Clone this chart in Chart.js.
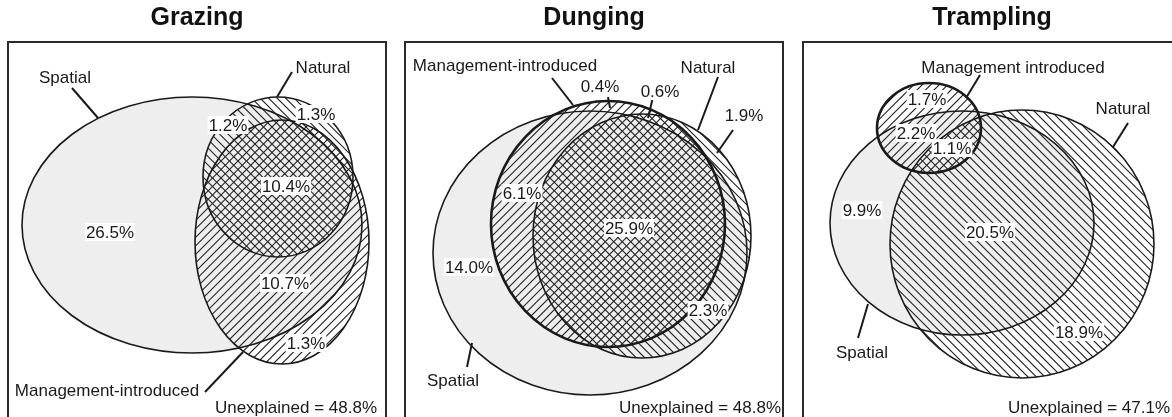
<!DOCTYPE html>
<html>
<head>
<meta charset="utf-8">
<script src="https://cdn.jsdelivr.net/npm/chart.js@4.4.1/dist/chart.umd.min.js"></script>
<style>
    html, body { margin: 0; padding: 0; background: #fff; overflow: hidden; }
    #wrap { position: relative; width: 1172px; height: 417px; overflow: hidden; }
    .panel { position: absolute; top: 0; }
</style>
</head>
<body>
<div id="wrap">
    <canvas id="grazing" class="panel" width="386" height="428" style="left:4px"></canvas>
    <canvas id="dunging" class="panel" width="386" height="428" style="left:401px"></canvas>
    <canvas id="trampling" class="panel" width="386" height="428" style="left:799px"></canvas>
</div>
<script>
    "use strict";

    // values
    const panelTitles = ['Grazing', 'Dunging', 'Trampling'];
    const setNames = ['Spatial', 'Natural', 'Management-introduced'];
    const tramplingSetNames = ['Spatial', 'Natural', 'Management introduced'];
    const unexplainedShares = [48.8, 48.8, 47.1];
    const grazingShares = [26.5, 1.2, 1.3, 10.4, 10.7, 1.3];
    const dungingShares = [14.0, 6.1, 0.4, 0.6, 25.9, 1.9, 2.3];
    const tramplingShares = [9.9, 2.2, 1.7, 1.1, 20.5, 18.9];

    const FONT = '"Liberation Sans", Arial, Helvetica, sans-serif';
    const GREY = '#eeeeee';
    const INK = '#1a1a1a';
    const HATCH_GAP = 8.5;

    /********************************************************/
    // layout in panel units (0..378 each way, origin at top-left of the box)
    const grazingLayout = {
        sets: [
            { cx: 184, cy: 183, rx: 170, ry: 128, fill: 'grey', width: 1.6 },
            { cx: 270, cy: 135, rx: 75, ry: 80, hatch: 'back', width: 1.6 },
            { cx: 274, cy: 200, rx: 87, ry: 122, hatch: 'fwd', width: 1.6 }
        ],
        shareAt: [[102, 190], [220, 83], [308, 72], [278, 144], [277, 241], [298, 301]],
        nameAt: [[57, 35], [315, 25], [99, 348]],
        leaders: [[64, 46, 90, 76], [284, 30, 269, 55], [197, 350, 235, 310]],
        unexplainedRight: 369
    };

    const dungingLayout = {
        sets: [
            { cx: 185, cy: 211, rx: 157, ry: 142, fill: 'grey', width: 1.6 },
            { cx: 237, cy: 194, rx: 109, ry: 122, hatch: 'back', width: 1.6 },
            { cx: 203, cy: 182, rx: 117, ry: 123, hatch: 'fwd', width: 2.6 }
        ],
        shareAt: [[64, 225], [117, 151], [195, 44], [255, 49], [224, 186], [339, 73], [303, 268]],
        nameAt: [[48, 338], [303, 25], [100, 23]],
        leaders: [[62, 325, 67, 301], [313, 35, 293, 88], [147, 36, 168, 63],
                  [203, 55, 205, 66], [248, 55, 243, 76], [328, 88, 312, 111]],
        unexplainedRight: 376
    };

    const tramplingLayout = {
        sets: [
            { cx: 159, cy: 181, rx: 132, ry: 112, fill: 'grey', width: 1.6 },
            { cx: 219, cy: 202, rx: 132, ry: 134, hatch: 'back', width: 1.6 },
            { cx: 126, cy: 86, rx: 52, ry: 45, hatch: 'fwd', width: 2.6 }
        ],
        shareAt: [[59, 168], [113, 91], [124, 57], [149, 106], [187, 190], [276, 290]],
        nameAt: [[59, 310], [320, 66], [210, 25]],
        leaders: [[65, 262, 55, 296], [325, 81, 310, 105], [177, 33, 163, 56]],
        unexplainedRight: 367
    };

    /********************************************************/
    function ellipsePath(ctx, s) {
        ctx.beginPath();
        ctx.ellipse(s.x, s.y, s.rx, s.ry, 0, 0, Math.PI * 2);
    }

    function hatch(ctx, s, dir, area) {
        ctx.save();
        ellipsePath(ctx, s);
        ctx.clip();
        ctx.beginPath();
        let h = area.width + area.height;
        for (let c = -h; c < h * 2; c += HATCH_GAP) {
            let a = area.left + c;
            if (dir === 'back') {
                ctx.moveTo(a - h, area.top - h);
                ctx.lineTo(a + h, area.top + h);
            } else {
                ctx.moveTo(a + h, area.top - h);
                ctx.lineTo(a - h, area.top + h);
            }
        }
        ctx.strokeStyle = '#262626';
        ctx.lineWidth = 1.15;
        ctx.stroke();
        ctx.restore();
    }

    const vennPlugin = {
        id: 'venn',
        beforeDatasetsDraw(chart) {
            const ctx = chart.ctx;
            const area = chart.chartArea;
            const xs = chart.scales.x;
            const ys = chart.scales.y;
            let sets = [];
            chart.data.datasets.forEach((ds, i) => {
                if (ds.kind !== 'set') return;
                let pt = chart.getDatasetMeta(i).data[0];
                sets.push({
                    x: pt.x,
                    y: pt.y,
                    rx: Math.abs(xs.getPixelForValue(ds.rx) - xs.getPixelForValue(0)),
                    ry: Math.abs(ys.getPixelForValue(ds.ry) - ys.getPixelForValue(0)),
                    ds: ds
                });
            });

            ctx.save();
            ctx.beginPath();
            ctx.rect(area.left, area.top, area.width, area.height);
            ctx.clip();
            sets.forEach(s => {
                if (s.ds.fillMode === 'grey') {
                    ellipsePath(ctx, s);
                    ctx.fillStyle = GREY;
                    ctx.fill();
                } else {
                    hatch(ctx, s, s.ds.hatch, area);
                }
            });
            sets.forEach(s => {
                ellipsePath(ctx, s);
                ctx.strokeStyle = INK;
                ctx.lineWidth = s.ds.edge;
                ctx.stroke();
            });
            ctx.restore();
        },
        afterDatasetsDraw(chart) {
            const ctx = chart.ctx;
            const area = chart.chartArea;
            ctx.save();
            ctx.font = '17px ' + FONT;
            ctx.textBaseline = 'middle';
            ctx.textAlign = 'center';
            chart.data.datasets.forEach((ds, i) => {
                let pts = chart.getDatasetMeta(i).data;
                if (ds.kind === 'shares') {
                    ds.data.forEach((d, j) => {
                        let txt = d.v.toFixed(1) + '%';
                        let w = ctx.measureText(txt).width;
                        ctx.fillStyle = '#fff';
                        ctx.fillRect(pts[j].x - w / 2 - 1, pts[j].y - 9, w + 2, 18);
                        ctx.fillStyle = INK;
                        ctx.fillText(txt, pts[j].x, pts[j].y + 1);
                    });
                }
                if (ds.kind === 'names') {
                    ds.data.forEach((d, j) => {
                        ctx.fillStyle = INK;
                        ctx.fillText(d.t, pts[j].x, pts[j].y + 1);
                    });
                }
                if (ds.kind === 'unexplained') {
                    let d = ds.data[0];
                    ctx.textAlign = 'right';
                    ctx.fillStyle = INK;
                    ctx.fillText('Unexplained = ' + d.v.toFixed(1) + '%', pts[0].x, pts[0].y + 1);
                    ctx.textAlign = 'center';
                }
            });
            // box round the diagram
            ctx.strokeStyle = '#2a2a2a';
            ctx.lineWidth = 2;
            ctx.strokeRect(area.left, area.top, area.width, area.height);
            ctx.restore();
        }
    };

    /********************************************************/
    function makePanel(canvasId, title, names, shares, unexplained, layout) {
        let datasets = [];

        layout.sets.forEach((s, i) => {
            datasets.push({
                kind: 'set',
                label: names[i],
                data: [{ x: s.cx, y: s.cy }],
                rx: s.rx,
                ry: s.ry,
                fillMode: s.fill,
                hatch: s.hatch,
                edge: s.width,
                pointRadius: 0
            });
        });

        layout.leaders.forEach(l => {
            datasets.push({
                kind: 'leader',
                data: [{ x: l[0], y: l[1] }, { x: l[2], y: l[3] }],
                showLine: true,
                borderColor: INK,
                borderWidth: 2,
                pointRadius: 0
            });
        });

        datasets.push({
            kind: 'shares',
            data: shares.map((v, j) => ({ x: layout.shareAt[j][0], y: layout.shareAt[j][1], v: v })),
            pointRadius: 0
        });

        datasets.push({
            kind: 'names',
            data: names.map((t, j) => ({ x: layout.nameAt[j][0], y: layout.nameAt[j][1], t: t })),
            pointRadius: 0
        });

        datasets.push({
            kind: 'unexplained',
            data: [{ x: layout.unexplainedRight, y: 365, v: unexplained }],
            pointRadius: 0
        });

        return new Chart(document.getElementById(canvasId), {
            type: 'scatter',
            data: { datasets: datasets },
            options: {
                responsive: false,
                animation: false,
                events: [],
                layout: { padding: { left: 4, right: 4, top: 0, bottom: 8 } },
                scales: {
                    x: { type: 'linear', min: 0, max: 378, display: false },
                    y: { type: 'linear', min: 0, max: 378, reverse: true, display: false }
                },
                plugins: {
                    legend: { display: false },
                    tooltip: { enabled: false },
                    title: {
                        display: true,
                        text: title,
                        color: '#111',
                        font: { family: FONT, size: 25, weight: 'bold' },
                        padding: { top: 3, bottom: 9 }
                    }
                }
            },
            plugins: [vennPlugin]
        });
    }

    makePanel('grazing', panelTitles[0], setNames, grazingShares, unexplainedShares[0], grazingLayout);
    makePanel('dunging', panelTitles[1], setNames, dungingShares, unexplainedShares[1], dungingLayout);
    makePanel('trampling', panelTitles[2], tramplingSetNames, tramplingShares, unexplainedShares[2], tramplingLayout);
</script>
</body>
</html>
